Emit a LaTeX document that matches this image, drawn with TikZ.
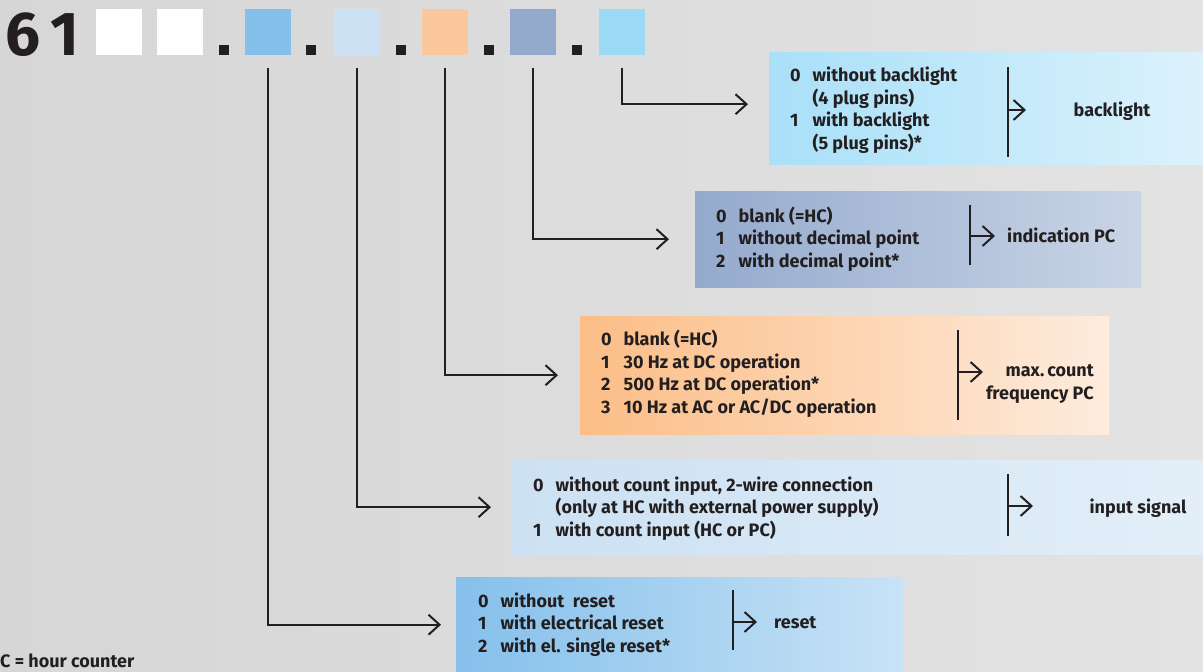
\documentclass[tikz,border=0pt]{standalone}
\usepackage{fontspec}
\setmainfont{Fira Sans}
\usetikzlibrary{arrows.meta, positioning}
\definecolor{ink}{HTML}{231F20}
\definecolor{codeA}{HTML}{85C0EB}
\definecolor{codeB}{HTML}{CCE1F3}
\definecolor{codeC}{HTML}{FBC89E}
\definecolor{codeD}{HTML}{94AACD}
\definecolor{codeE}{HTML}{9ADAF7}

\begin{document}
\begin{tikzpicture}[
    x=1pt, y=-1pt,
    every node/.style={text=ink, font=\bfseries\fontsize{18}{22.5}\selectfont},
    digit/.style ={minimum width=46pt, minimum height=46pt, inner sep=0pt, anchor=north west},
    dotsep/.style={fill=ink, minimum width=10pt, minimum height=10pt, inner sep=0pt, anchor=south west},
    optbox/.style={rectangle, inner sep=0pt, anchor=north west},
    opts/.style  ={inner sep=0pt, anchor=west, align=left},
    conn/.style  ={-{Straight Barb[length=11pt, width=20pt, line width=2pt]}, line width=2pt, draw=ink},
    bar/.style   ={line width=2pt, draw=ink},
]

% ── Background ───────────────────────────────────────────────
\shade[left color=black!16!white, right color=black!11!white, draw=none]
    (0,0) rectangle (1203,672);
\useasboundingbox (0,0) rectangle (1203,672);

% ── Type code ────────────────────────────────────────────────
\node[anchor=base west, inner sep=0pt, font=\bfseries\fontsize{62}{62}\selectfont]
    (head) at (5,55) {6\,1};
\node[digit, fill=white] (w1) at (96,9)  {};
\node[digit, fill=white] (w2) at (157,9) {};
\node[dotsep] (p1) at (219,55) {};
\node[digit, fill=codeA] (sqA) at (245,9) {};
\node[dotsep] (p2) at (306,55) {};
\node[digit, fill=codeB] (sqB) at (334,9) {};
\node[dotsep] (p3) at (396,55) {};
\node[digit, fill=codeC] (sqC) at (422,9) {};
\node[dotsep] (p4) at (484,55) {};
\node[digit, fill=codeD] (sqD) at (510,9) {};
\node[dotsep] (p5) at (572,55) {};
\node[digit, fill=codeE] (sqE) at (599,9) {};

% ── Option boxes ─────────────────────────────────────────────
\node[optbox, minimum width=434pt, minimum height=112pt,
      left color=codeE!85!white, right color=codeE!35!white] (boxE) at (769,52) {};
\node[optbox, minimum width=446pt, minimum height=96pt,
      left color=codeD, right color=codeD!50!white] (boxD) at (695,191) {};
\node[optbox, minimum width=529pt, minimum height=118pt,
      left color=codeC!85!orange, right color=codeC!35!white] (boxC) at (580,316) {};
\node[optbox, minimum width=692pt, minimum height=94pt,
      left color=codeB, right color=codeB!55!white] (boxB) at (511,460) {};
\node[optbox, minimum width=447pt, minimum height=95pt,
      left color=codeA, right color=codeA!45!white] (boxA) at (456,577) {};

% ── Option lists ─────────────────────────────────────────────
\node[opts] (optE) at (790,111) {\begin{tabular}{@{}l@{\hspace{12pt}}l@{}}
    0 & without backlight\\ & (4 plug pins)\\ 1 & with backlight\\ & (5 plug pins)*\end{tabular}};
\node[opts] (optD) at (716,240) {\begin{tabular}{@{}l@{\hspace{12pt}}l@{}}
    0 & blank (=HC)\\ 1 & without decimal point\\ 2 & with decimal point*\end{tabular}};
\node[opts] (optC) at (601,375) {\begin{tabular}{@{}l@{\hspace{12pt}}l@{}}
    0 & blank (=HC)\\ 1 & 30 Hz at DC operation\\ 2 & 500 Hz at DC operation*\\
    3 & 10 Hz at AC or AC/DC operation\end{tabular}};
\node[opts] (optB) at (533,509) {\begin{tabular}{@{}l@{\hspace{12pt}}l@{}}
    0 & without count input, 2-wire connection\\ & (only at HC with external power supply)\\
    1 & with count input (HC or PC)\end{tabular}};
\node[opts] (optA) at (478,625) {\begin{tabular}{@{}l@{\hspace{12pt}}l@{}}
    0 & without\ \ reset\\ 1 & with electrical reset\\ 2 & with el. single reset*\end{tabular}};

% ── Result labels ────────────────────────────────────────────
\node[anchor=mid] (labE) at (1112,114) {backlight};
\node[anchor=mid west, inner sep=0pt] (labD) at (1007,240) {indication PC};
\node[anchor=east, align=right, inner sep=0pt] (labC) at (1094,384) {max.\,count\\frequency PC};
\node[anchor=mid] (labB) at (1138,511) {input signal};
\node[anchor=mid west, inner sep=0pt] (labA) at (774,626) {reset};

% ── Bars with arrows ─────────────────────────────────────────
\draw[bar] (1008,67) -- (1008,157);
\coordinate (barE) at (1008,110);
\draw[conn] (barE) -- ++(18,0);
\draw[bar] (970,205) -- (970,265);
\coordinate (barD) at (970,236);
\draw[conn] (barD) -- ++(25,0);
\draw[bar] (958,330) -- (958,420);
\coordinate (barC) at (958,372);
\draw[conn] (barC) -- ++(25,0);
\draw[bar] (1008,474) -- (1008,536);
\coordinate (barB) at (1008,506);
\draw[conn] (barB) -- ++(25,0);
\draw[bar] (733,590) -- (733,650);
\coordinate (barA) at (733,622);
\draw[conn] (barA) -- ++(24,0);

% ── Connectors from the code squares ─────────────────────────
\draw[conn] ([yshift=-13pt]sqE.south) |- ([xshift=-21pt, yshift=4pt]boxE.west);
\draw[conn] ([yshift=-13pt]sqD.south) |- ([xshift=-26pt]boxD.west);
\draw[conn] ([yshift=-13pt]sqC.south) |- ([xshift=-22pt]boxC.west);
\draw[conn] ([yshift=-13pt]sqB.south) |- ([xshift=-20pt]boxB.west);
\draw[conn] ([yshift=-13pt]sqA.south) |- ([xshift=-15pt]boxA.west);

% ── Footnote ─────────────────────────────────────────────────
\node[anchor=base west, inner sep=0pt, font=\bfseries\fontsize{18}{18}\selectfont]
    (note) at (0,667) {C = hour counter};

\end{tikzpicture}
\end{document}
